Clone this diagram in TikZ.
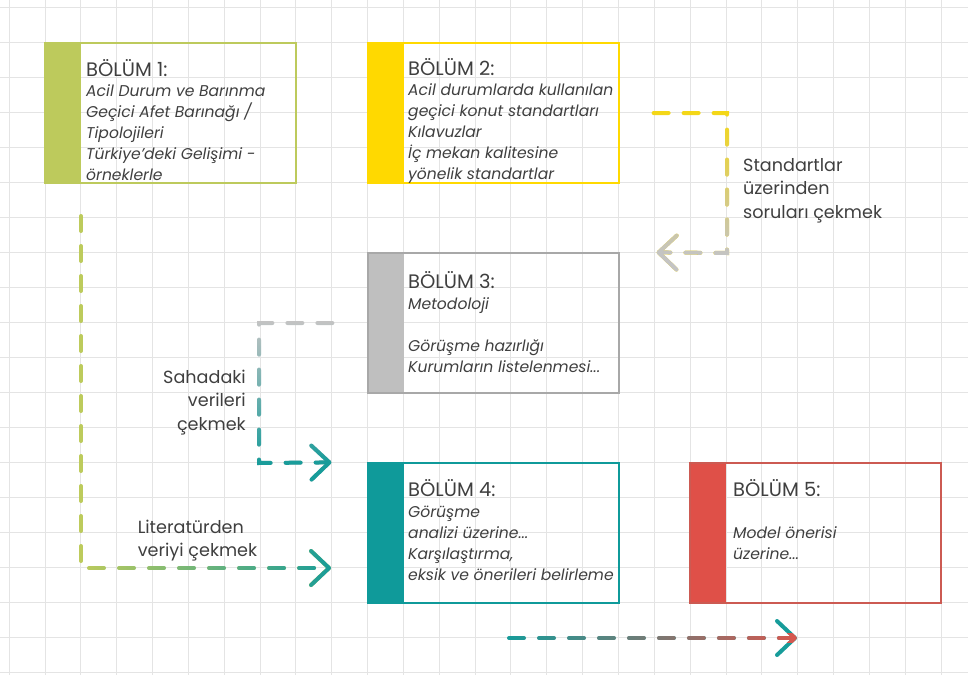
\documentclass[tikz,border=0pt]{standalone}
\usepackage{fontspec}
\setmainfont{Poppins}
\usetikzlibrary{arrows.meta,fadings}
\definecolor{gridc}{HTML}{E4E4E4}
\definecolor{txtc}{HTML}{3F3F3F}
\definecolor{cgreen}{HTML}{BDCA5C}
\definecolor{cyellow}{HTML}{FFD900}
\definecolor{cgray}{HTML}{BFBFBF}
\definecolor{cgrayb}{HTML}{A8A8A8}
\definecolor{cteal}{HTML}{0F9A9A}
\definecolor{cred}{HTML}{DF5048}
\definecolor{credb}{HTML}{CC5A52}
\definecolor{lyellow}{HTML}{F5D816}
\definecolor{lgray}{HTML}{C4C4C4}
\definecolor{lgreen}{HTML}{BFCC5C}
\definecolor{lteal}{HTML}{179C9A}
\definecolor{lred}{HTML}{D9574E}
\tikzfading[name=fadeR, left color=transparent!100, right color=transparent!0]
\tikzfading[name=fadeB, top color=transparent!100, bottom color=transparent!0]
\newcommand{\hdg}[1]{{\upshape\fontsize{19.5}{20.8}\selectfont #1}}
\begin{document}
\begin{tikzpicture}[x=1pt,y=-1pt,
  gridline/.style={draw=gridc, line width=1pt},
  box/.style 2 args={draw=#1, line width=1.2pt, minimum width=251pt, minimum height=140pt, inner sep=0pt,
    path picture={\fill[#2] (path picture bounding box.north west) rectangle ([xshift=36pt]path picture bounding box.south west);}},
  boxtext/.style={anchor=base west, align=left, inner sep=0pt, text=txtc, font=\itshape\fontsize{15.6}{20.8}\selectfont},
  lbl/.style={inner sep=0pt, text=txtc, font=\fontsize{17.6}{23.5}\selectfont},
  conn/.style={line width=4pt, dash pattern=on 15pt off 15pt, line cap=round},
  tip/.style={-{Straight Barb[length=18pt,width=34pt,round]}}
]
\useasboundingbox (0,0) rectangle (968,675);
% grid
\foreach \k in {0,...,26} \draw[gridline] (9.2+35.84*\k,0) -- (9.2+35.84*\k,675);
\foreach \k in {0,...,19} \draw[gridline] (0,7+35*\k) -- (968,7+35*\k);
% boxes
\node[box={cgreen}{cgreen}] (b1) at (170.5,113) {};
\node[box={cyellow}{cyellow}] (b2) at (493.5,113) {};
\node[box={cgrayb}{cgray}] (b3) at (493.5,323) {};
\node[box={cteal}{cteal}] (b4) at (493.5,533) {};
\node[box={credb}{cred}] (b5) at (815.5,533) {};
% texts (anchored at the baseline of their last line)
\node[boxtext] (t1) at (86,180) {\hdg{BÖLÜM 1:}\\Acil Durum ve Barınma\\Geçici Afet Barınağı /\\Tipolojileri\\Türkiye’deki Gelişimi -\\örneklerle};
\node[boxtext] (t2) at (408,179) {\hdg{BÖLÜM 2:}\\Acil durumlarda kullanılan\\geçici konut standartları\\Kılavuzlar\\İç mekan kalitesine\\yönelik standartlar};
\node[boxtext] (t3) at (408,372) {\hdg{BÖLÜM 3:}\\Metodoloji\\[20.8pt]Görüşme hazırlığı\\Kurumların listelenmesi...};
\node[boxtext] (t4) at (408,580) {\hdg{BÖLÜM 4:}\\Görüşme\\analizi üzerine...\\Karşılaştırma,\\eksik ve önerileri belirleme};
\node[boxtext] (t5) at (733,559) {\hdg{BÖLÜM 5:}\\[20.8pt]Model önerisi\\üzerine...};
% labels
\node[lbl, anchor=base west, align=left] (l1) at (743,218) {Standartlar\\üzerinden\\soruları çekmek};
\node[lbl, anchor=base east, align=right] (l2) at (246,430) {Sahadaki\\verileri\\çekmek};
\node[lbl, anchor=base west, align=left] (l3) at (137.6,556.5) {Literatürden\\veriyi çekmek};
% connector end points
\coordinate (s1) at ([xshift=34pt]b2.east);
\coordinate (k1) at (727,253);
\coordinate (e1) at ([xshift=37pt]b3.north east);
\coordinate (s2) at ([xshift=-35pt]b3.west);
\coordinate (k2) at (259,463);
\coordinate (e2) at ([xshift=-36pt]b4.north west);
\coordinate (s3) at (81,216);
\coordinate (e3) at (331,568);
\coordinate (s4) at (509,638);
\coordinate (e4) at (797,638);
% connectors
\draw[conn, tip, lyellow] (s1) -| (k1) -- (e1);
\draw[conn, tip, lgray, path fading=fadeB] (s1) -| (k1) -- (e1);
\draw[conn, tip, lgray] (s2) -| (k2) -- (e2);
\draw[conn, tip, lteal, path fading=fadeB] (s2) -| (k2) -- (e2);
\draw[conn, tip, lgreen] (s3) |- (e3);
\draw[conn, tip, lteal, path fading=fadeR] (s3) |- (e3);
\draw[conn, tip, lteal] (s4) -- (e4);
\draw[conn, tip, lred, path fading=fadeR] (s4) -- (e4);
\end{tikzpicture}
\end{document}
